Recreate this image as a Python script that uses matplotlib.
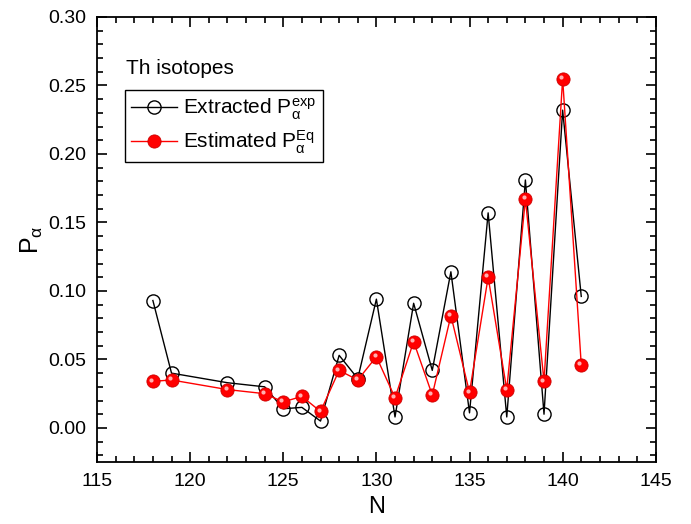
import matplotlib
matplotlib.use("Agg")
import matplotlib.pyplot as plt
from matplotlib.ticker import MultipleLocator
from matplotlib.transforms import ScaledTranslation

plt.rcParams['font.family'] = ['Liberation Sans', 'DejaVu Sans']
plt.rcParams['mathtext.fontset'] = 'custom'
plt.rcParams['mathtext.rm'] = 'Liberation Sans'
plt.rcParams['mathtext.it'] = 'Liberation Sans'
plt.rcParams['mathtext.bf'] = 'Liberation Sans:bold'

N = [118, 119, 122, 124, 125, 126, 127, 128, 129, 130, 131, 132, 133, 134,
     135, 136, 137, 138, 139, 140, 141]
P_exp = [0.093, 0.040, 0.033, 0.030, 0.014, 0.015, 0.005, 0.053, 0.036, 0.094,
         0.008, 0.091, 0.042, 0.114, 0.011, 0.157, 0.008, 0.181, 0.010, 0.232, 0.096]
P_eq = [0.034, 0.035, 0.028, 0.025, 0.019, 0.023, 0.012, 0.042, 0.035, 0.052,
        0.022, 0.063, 0.024, 0.082, 0.026, 0.110, 0.028, 0.167, 0.034, 0.255, 0.046]

fig = plt.figure(figsize=(6.91, 5.24), dpi=100)
ax = fig.add_axes([0.1404, 0.118, 0.8086, 0.8496])

ax.plot(N, P_exp, color='black', lw=1.0, marker='o', ms=9.5, mfc='none',
        mec='black', mew=1.0, label=r'Extracted $\mathrm{P}_{\alpha}^{\mathrm{exp}}$', zorder=2)
ax.plot(N, P_eq, color='red', lw=1.0, marker='o', ms=9.5, mfc='red',
        mec='#cc0000', mew=0.6, label=r'Estimated $\mathrm{P}_{\alpha}^{\mathrm{Eq}}$', zorder=3)
# highlight for 3D-ball look
hl = ax.transData + ScaledTranslation(-1.3/72, 1.3/72, fig.dpi_scale_trans)
ax.plot(N, P_eq, ls='none', marker='o', ms=3, mfc='#ffb0b0', mec='none',
        transform=hl, zorder=4)

ax.set_xlim(115, 145)
ax.set_ylim(-0.025, 0.30)
ax.xaxis.set_major_locator(MultipleLocator(5))
ax.xaxis.set_minor_locator(MultipleLocator(1))
ax.yaxis.set_major_locator(MultipleLocator(0.05))
ax.yaxis.set_minor_locator(MultipleLocator(0.01))
ax.yaxis.set_major_formatter(matplotlib.ticker.FormatStrFormatter('%.2f'))
ax.tick_params(which='both', direction='in', top=True, right=True, width=1.2)
ax.tick_params(which='major', length=7, labelsize=14, pad=8)
ax.tick_params(which='minor', length=4)
for s in ax.spines.values():
    s.set_linewidth(1.3)

ax.set_xlabel('N', fontsize=17, labelpad=4)
ax.set_ylabel(r'$\mathrm{P}_{\alpha}$', fontsize=18, labelpad=2)

ax.text(0.052, 0.885, 'Th isotopes', transform=ax.transAxes, fontsize=15,
        ha='left', va='center')
leg = ax.legend(loc='upper left', bbox_to_anchor=(0.05, 0.835), fontsize=15,
                frameon=True, fancybox=False, edgecolor='black', framealpha=1,
                borderpad=0.3, handlelength=2.2, handletextpad=0.3,
                labelspacing=0.3, borderaxespad=0)
leg.get_frame().set_linewidth(1.0)

fig.savefig('out.png', dpi=100)
